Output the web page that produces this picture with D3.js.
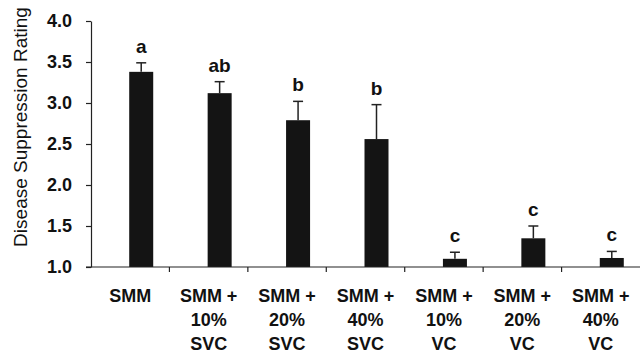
<!DOCTYPE html>
<html>
<head>
<meta charset="utf-8">
<script src="https://cdn.jsdelivr.net/npm/d3@7"></script>
<style>
  body { margin: 0; background: #fff; }
  text { font-family: "Liberation Sans", Arial, sans-serif; fill: #111; }
</style>
</head>
<body>
<svg id="chart" width="641" height="357"></svg>
<script>
// treatments, mean rating, upper error bar, letter group
var categories = ["SMM", "SMM +|10%|SVC", "SMM +|20%|SVC", "SMM +|40%|SVC",
                  "SMM +|10%|VC", "SMM +|20%|VC", "SMM +|40%|VC"];
var means = [3.38, 3.12, 2.79, 2.56, 1.10, 1.35, 1.11];
var errTops = [3.49, 3.26, 3.02, 2.98, 1.18, 1.50, 1.19];
var letters = ["a", "ab", "b", "b", "c", "c", "c"];
var yTicks = [1.0, 1.5, 2.0, 2.5, 3.0, 3.5, 4.0];

var svg = d3.select("#chart");
var plotL = 91, plotR = 640, plotT = 21, plotB = 267;

var x = d3.scaleBand().domain(categories).range([plotL, plotR]).padding(0);
var y = d3.scaleLinear().domain([1, 4]).range([plotB, plotT]);

var barW = 24, shift = 11;
var cx = function(d, i){ return x(categories[i]) + x.bandwidth() / 2 + shift; };

// y axis
var yAxis = svg.append("g")
    .attr("transform", "translate(" + plotL + ",0)")
    .call(d3.axisLeft(y).tickValues(yTicks).tickFormat(d3.format(".1f"))
          .tickSize(5).tickPadding(14).tickSizeOuter(0));
yAxis.select(".domain").attr("stroke", "#222").attr("stroke-width", 1.2);
yAxis.selectAll(".tick line").attr("stroke", "#222").attr("stroke-width", 1.2);
yAxis.selectAll(".tick text")
    .style("font-size", "18px").style("font-weight", "bold")
    .style("font-family", "Liberation Sans, Arial, sans-serif").attr("fill", "#111");

// bars
svg.selectAll("rect.bar").data(means).enter().append("rect")
    .attr("class", "bar")
    .attr("x", function(d, i){ return cx(d, i) - barW / 2; })
    .attr("y", function(d){ return y(d); })
    .attr("width", barW)
    .attr("height", function(d){ return y(1) - y(d); })
    .attr("fill", "#141414");

// error bars (upper only)
var eb = svg.selectAll("g.err").data(errTops).enter().append("g").attr("class", "err");
eb.append("line")
    .attr("x1", cx).attr("x2", cx)
    .attr("y1", function(d, i){ return y(means[i]); })
    .attr("y2", function(d){ return y(d); })
    .attr("stroke", "#222").attr("stroke-width", 1.5);
eb.append("line")
    .attr("x1", function(d, i){ return cx(d, i) - 5; })
    .attr("x2", function(d, i){ return cx(d, i) + 5; })
    .attr("y1", function(d){ return y(d); })
    .attr("y2", function(d){ return y(d); })
    .attr("stroke", "#222").attr("stroke-width", 1.5);

// letters
svg.selectAll("text.letter").data(letters).enter().append("text")
    .attr("class", "letter")
    .attr("x", cx)
    .attr("y", function(d, i){ return y(errTops[i]) - 10; })
    .attr("text-anchor", "middle")
    .style("font-size", "19px").style("font-weight", "bold")
    .text(function(d){ return d; });

// x axis line + ticks between groups
svg.append("line")
    .attr("x1", plotL - 5).attr("x2", plotR)
    .attr("y1", plotB).attr("y2", plotB)
    .attr("stroke", "#222").attr("stroke-width", 1.2);
svg.selectAll("line.xtick").data(categories.slice(1)).enter().append("line")
    .attr("class", "xtick")
    .attr("x1", function(d){ return x(d); }).attr("x2", function(d){ return x(d); })
    .attr("y1", plotB).attr("y2", plotB + 5)
    .attr("stroke", "#222").attr("stroke-width", 1.2);

// category labels
var lab = svg.selectAll("text.cat").data(categories).enter().append("text")
    .attr("class", "cat")
    .attr("text-anchor", "middle")
    .style("font-size", "18px").style("font-weight", "bold");
lab.selectAll("tspan").data(function(d){
        return d.split("|").map(function(s){ return {s: s, c: d}; });
    }).enter().append("tspan")
    .attr("x", function(d){ return x(d.c) + x.bandwidth() / 2; })
    .attr("y", function(d, i){ return 302 + i * 24; })
    .text(function(d){ return d.s; });

// y title
svg.append("text")
    .attr("transform", "translate(27,127) rotate(-90)")
    .attr("text-anchor", "middle")
    .style("font-size", "19px")
    .text("Disease Suppression Rating");
</script>
</body>
</html>
